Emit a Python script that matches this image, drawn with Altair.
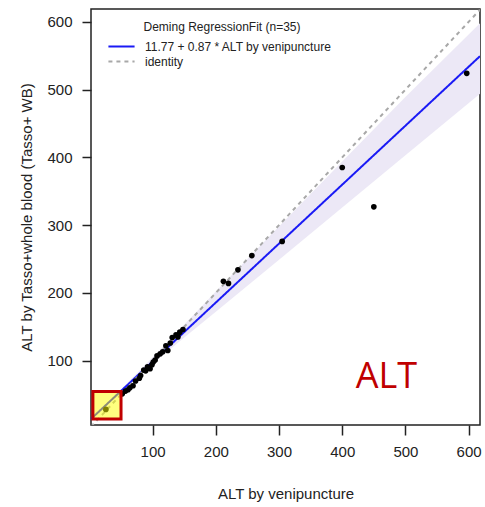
import altair as alt
import pandas as pd

# ---- data ----
ven = [597, 400, 450, 305, 257, 235, 212, 220,
       148, 143, 137, 140, 131, 128, 121, 124, 116, 112, 107, 104, 99,
       101, 96, 92, 89, 86, 81, 79, 73, 69, 64, 61, 57, 52, 26]
tasso = [524, 385, 327, 276, 255, 234, 217, 214,
         146, 142, 138, 135, 134, 126, 122, 115, 113, 110, 107, 101, 94,
         98, 88, 91, 85, 86, 78, 74, 70, 63, 60, 57, 55, 51, 28]

fit_label = "11.77 + 0.87 * ALT by venipuncture"
line_x = [2.5, 618]
fit_y = [13.9, 549.4]
ident_y = [2.5, 618]

band_x = [2.5, 20, 60, 100, 150, 200, 300, 400, 500, 618]
band_lo = [13.5, 28, 62, 95, 134, 172, 249, 326, 403, 494]
band_hi = [14.5, 30, 67, 105, 153, 202, 298, 394, 489, 598]

x_ticks = [100, 200, 300, 400, 500, 600]
y_ticks = [100, 200, 300, 400, 500, 600]
x_dom = [2.5, 618]
y_dom = [5, 619]

box_x = [5.5, 50]
box_y = [13.7, 54.4]
note_text = ["ALT"]
note_x = [470]
note_y = [76]

FONT = "Liberation Sans"

pts = pd.DataFrame({"x": ven, "y": tasso})
lines = pd.DataFrame({
    "x": line_x + line_x,
    "y": fit_y + ident_y,
    "series": [fit_label] * 2 + ["identity"] * 2,
})
band = pd.DataFrame({"x": band_x, "lo": band_lo, "hi": band_hi})
box = pd.DataFrame({"x1": [box_x[0]], "x2": [box_x[1]], "y1": [box_y[0]], "y2": [box_y[1]]})
note = pd.DataFrame({"t": note_text, "x": note_x, "y": note_y})

xs = alt.Scale(domain=x_dom, nice=False, zero=False)
ys = alt.Scale(domain=y_dom, nice=False, zero=False)

xax = alt.Axis(values=x_ticks, title="ALT by venipuncture", grid=False, domain=False,
               tickSize=10, tickWidth=1.5, tickColor="#222", labelFontSize=15,
               labelColor="#222", labelPadding=9, titleFontSize=15,
               titleFontWeight="normal", titleColor="#222", titlePadding=27,
               labelFont=FONT, titleFont=FONT)
yax = alt.Axis(values=y_ticks, title="ALT by Tasso+whole blood (Tasso+ WB)", grid=False,
               domain=False, tickSize=9, tickWidth=1.5, tickColor="#222",
               labelFontSize=15, labelColor="#222", labelPadding=10,
               titleFontSize=15, titleFontWeight="normal", titleColor="#222",
               titlePadding=12, labelFont=FONT, titleFont=FONT)

band_layer = alt.Chart(band).mark_area(color="#ECE8F6", opacity=1, clip=True).encode(
    x=alt.X("x:Q", scale=xs, axis=xax),
    y=alt.Y("lo:Q", scale=ys, axis=yax),
    y2="hi:Q",
)

leg = alt.Legend(title="Deming RegressionFit (n=35)", orient="none", legendX=22, legendY=13)
line_layer = alt.Chart(lines).mark_line(strokeWidth=2, clip=True).encode(
    x=alt.X("x:Q", scale=xs),
    y=alt.Y("y:Q", scale=ys),
    color=alt.Color("series:N",
                    scale=alt.Scale(domain=[fit_label, "identity"], range=["#1A1AF5", "#A8A8A8"]),
                    legend=leg),
    strokeDash=alt.StrokeDash("series:N",
                              scale=alt.Scale(domain=[fit_label, "identity"], range=[[1, 0], [4, 4]]),
                              legend=leg),
    detail="series:N",
)

pt_layer = alt.Chart(pts).mark_circle(size=32, color="black", opacity=1).encode(
    x=alt.X("x:Q", scale=xs),
    y=alt.Y("y:Q", scale=ys),
)

box_layer = alt.Chart(box).mark_rect(fill="#FFFF00", fillOpacity=0.5, stroke="#C00000",
                                      strokeWidth=3).encode(
    x=alt.X("x1:Q", scale=xs), x2="x2:Q",
    y=alt.Y("y1:Q", scale=ys), y2="y2:Q",
)

note_layer = alt.Chart(note).mark_text(font="Open Sans", fontSize=36, color="#C00000",
                                        align="center", baseline="middle").encode(
    x=alt.X("x:Q", scale=xs),
    y=alt.Y("y:Q", scale=ys),
    text="t:N",
)

chart = alt.layer(band_layer, line_layer, pt_layer, box_layer, note_layer).properties(
    width=389, height=416,
    background="white",
    autosize=alt.AutoSizeParams(type="none"),
    padding={"left": 91, "top": 9, "right": 5, "bottom": 82},
).configure_view(stroke="#222", strokeWidth=1.5).configure_legend(
    symbolType="M-1.85,0H1.85", symbolSize=200, symbolStrokeWidth=2, labelFontSize=12,
    titleFontSize=12, titleFontWeight="normal", titleAnchor="middle",
    labelFont=FONT, titleFont=FONT, labelColor="#222", titleColor="#222",
    padding=0, rowPadding=0, titlePadding=4, labelOffset=15, labelLimit=400,
)

chart.save("out.html", embed_options={"renderer": "svg", "actions": False})
